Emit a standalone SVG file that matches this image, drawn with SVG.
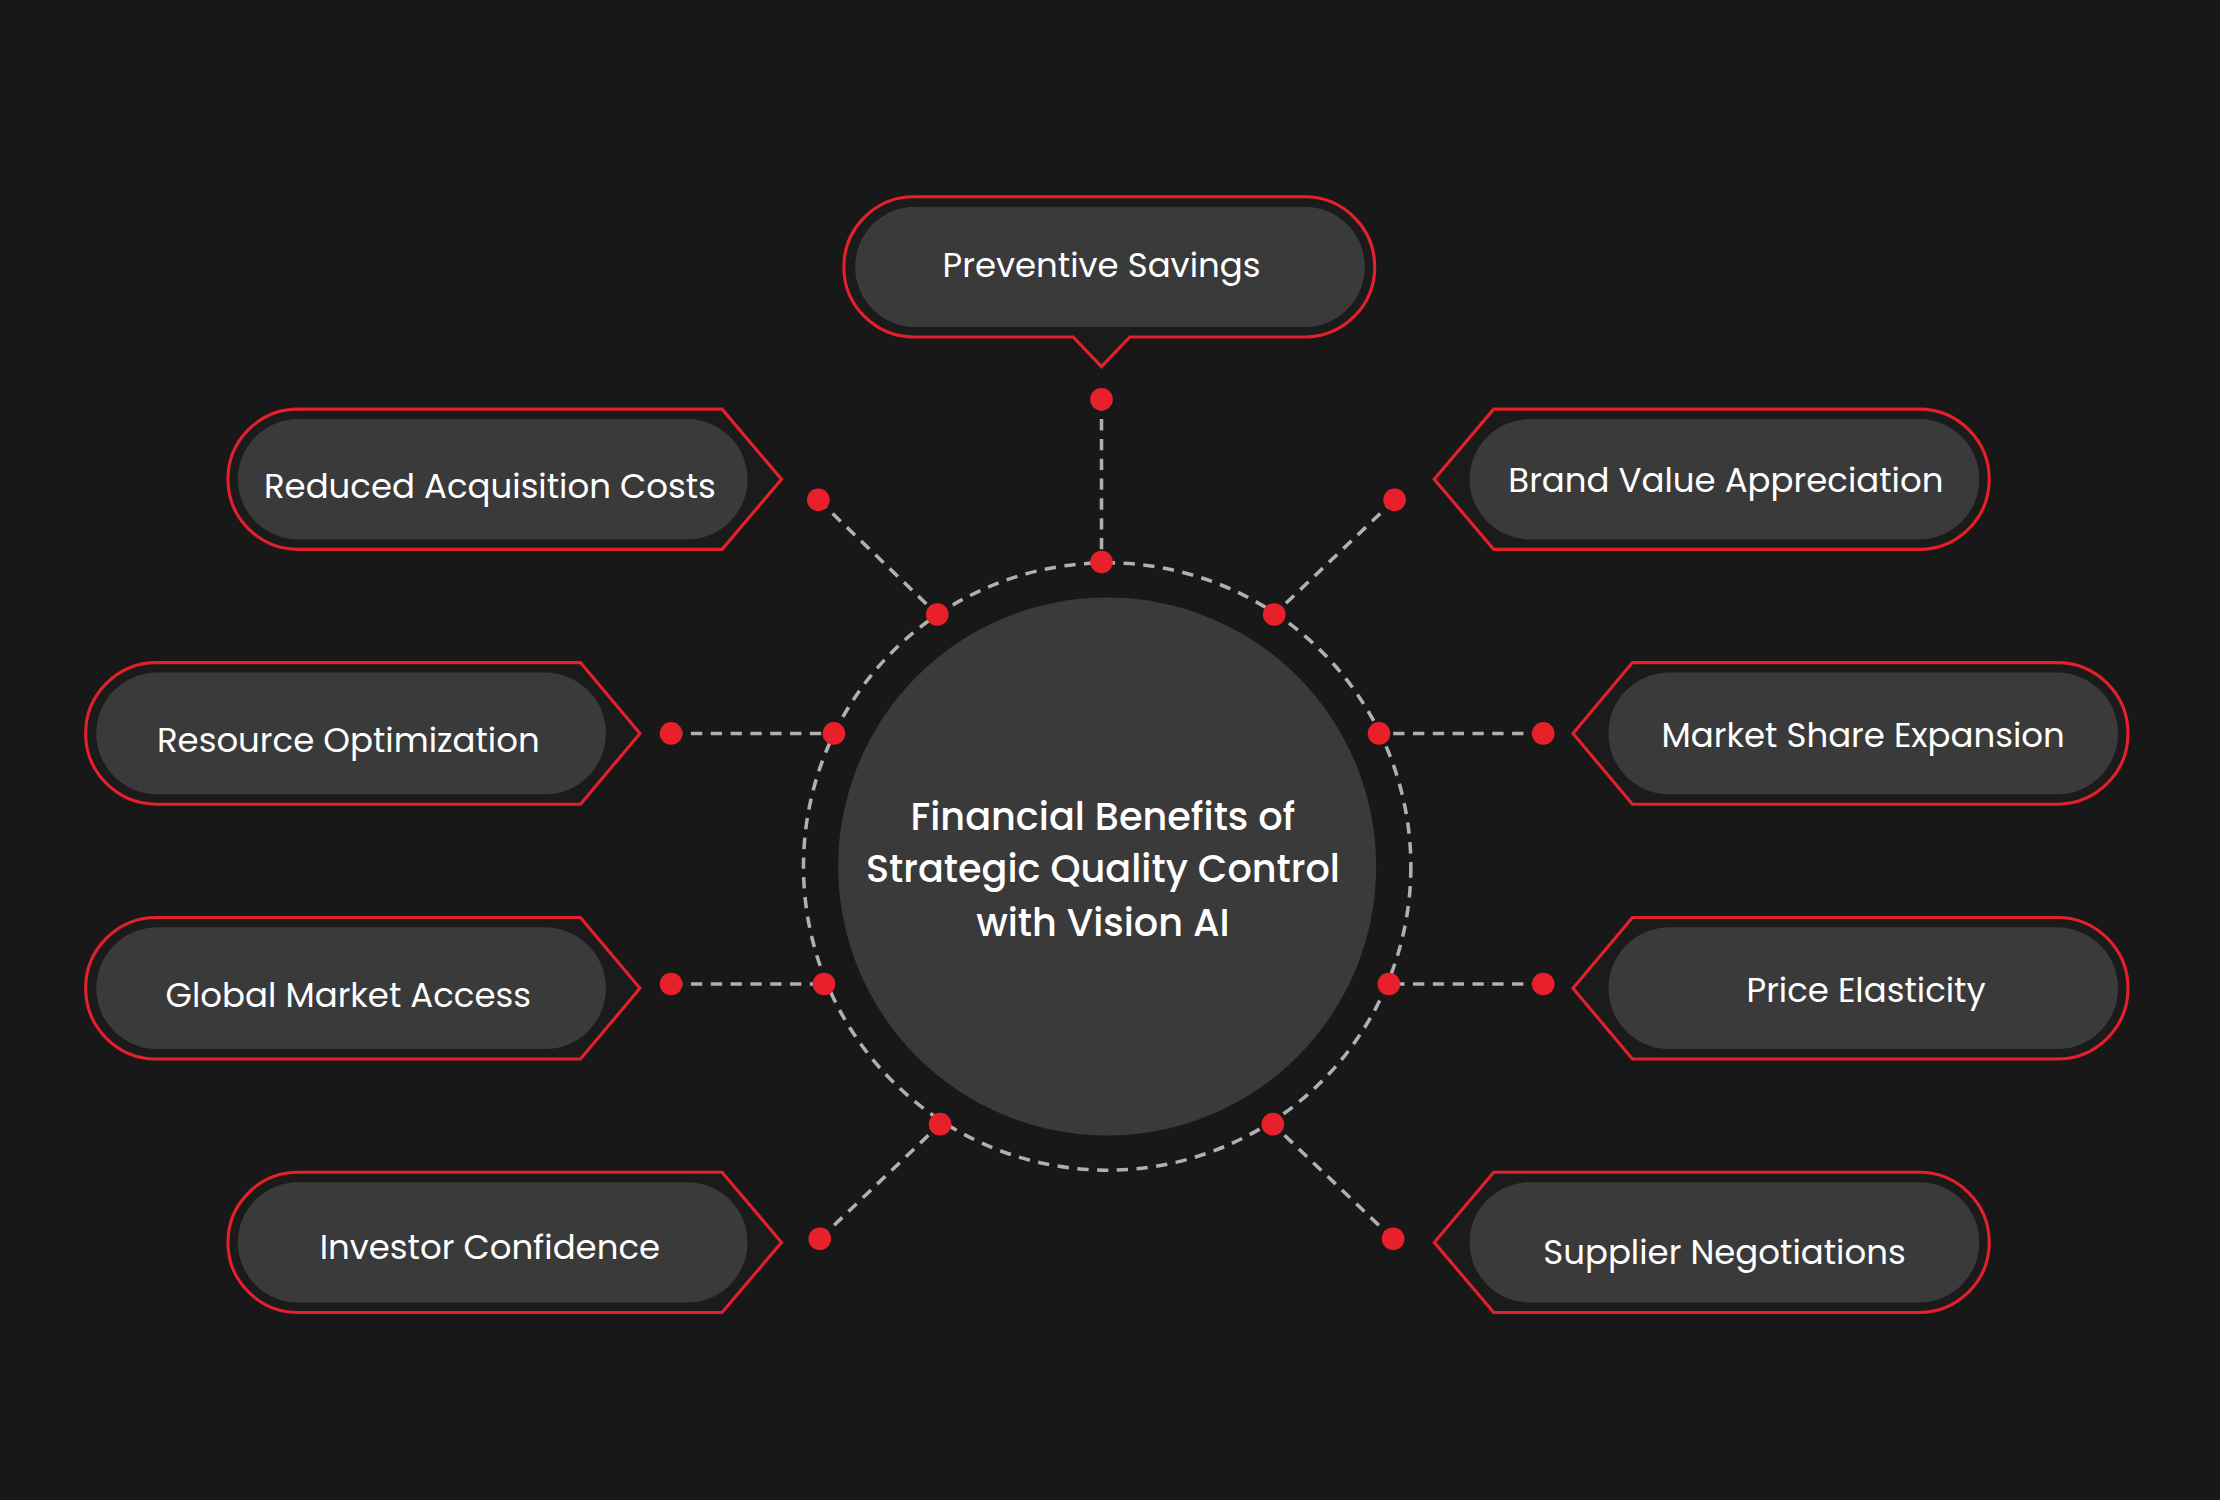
<svg xmlns="http://www.w3.org/2000/svg" width="2220" height="1500" viewBox="0 0 2220 1500">
<style>
.o{fill:#1b1b1b;stroke:#e3202b;stroke-width:2.2}
.p{fill:#3a3a3a}
.t{fill:#fff;font-family:"Poppins","Inter","Lato",sans-serif;font-size:24px;text-anchor:middle;dominant-baseline:central}
.h{fill:#fff;font-family:"Poppins","Inter","Lato",sans-serif;font-size:27px;font-weight:500;text-anchor:middle}
.d{fill:#e8202a}
.l{stroke:#b0b0b0;stroke-width:2.5;stroke-dasharray:8 6;fill:none}
</style>
<rect width="2220" height="1500" fill="#181818"/>
<g transform="scale(1.41582)">
<g id="connectors">
<circle cx="782" cy="612" r="214.5" class="l"/>
<line x1="778" y1="282" x2="778" y2="397" class="l"/>
<line x1="578" y1="353" x2="662" y2="434" class="l"/>
<line x1="474" y1="518" x2="589" y2="518" class="l"/>
<line x1="474" y1="695" x2="582" y2="695" class="l"/>
<line x1="579" y1="875" x2="664" y2="794" class="l"/>
<line x1="985" y1="353" x2="900" y2="434" class="l"/>
<line x1="1090" y1="518" x2="974" y2="518" class="l"/>
<line x1="1090" y1="695" x2="981" y2="695" class="l"/>
<line x1="984" y1="875" x2="899" y2="794" class="l"/>
<g class="d">
<circle cx="778" cy="282" r="8"/><circle cx="778" cy="397" r="8"/>
<circle cx="578" cy="353" r="8"/><circle cx="662" cy="434" r="8"/>
<circle cx="474" cy="518" r="8"/><circle cx="589" cy="518" r="8"/>
<circle cx="474" cy="695" r="8"/><circle cx="582" cy="695" r="8"/>
<circle cx="579" cy="875" r="8"/><circle cx="664" cy="794" r="8"/>
<circle cx="985" cy="353" r="8"/><circle cx="900" cy="434" r="8"/>
<circle cx="1090" cy="518" r="8"/><circle cx="974" cy="518" r="8"/>
<circle cx="1090" cy="695" r="8"/><circle cx="981" cy="695" r="8"/>
<circle cx="984" cy="875" r="8"/><circle cx="899" cy="794" r="8"/>
</g>
</g>
<g id="center">
<circle cx="782" cy="612" r="190" fill="#3a3a3a"/>
<text class="h" x="779" y="586">Financial Benefits of</text>
<text class="h" x="779" y="623">Strategic Quality Control</text>
<text class="h" x="779" y="661">with Vision AI</text>
</g>
<g id="preventive">
<path class="o" d="M645.5,139 H921.5 A49.5,49.5 0 0 1 921.5,238 H798 L778,259 L758,238 H645.5 A49.5,49.5 0 0 1 645.5,139 Z"/>
<rect class="p" x="604" y="146" width="360" height="85" rx="42.5"/>
<text class="t" x="778" y="187">Preventive Savings</text>
</g>
<g id="reduced">
<path class="o" d="M210.5,289 H510 L552,338.5 L510,388 H210.5 A49.5,49.5 0 0 1 210.5,289 Z"/>
<rect class="p" x="168" y="296" width="360" height="85" rx="42.5"/>
<text class="t" x="346" y="343">Reduced Acquisition Costs</text>
</g>
<g id="resource">
<path class="o" d="M110.5,468 H410 L452,518 L410,568 H110.5 A50,50 0 0 1 110.5,468 Z"/>
<rect class="p" x="68" y="475" width="360" height="86" rx="43"/>
<text class="t" x="246" y="523">Resource Optimization</text>
</g>
<g id="global">
<path class="o" d="M110.5,648 H410 L452,698 L410,748 H110.5 A50,50 0 0 1 110.5,648 Z"/>
<rect class="p" x="68" y="655" width="360" height="86" rx="43"/>
<text class="t" x="246" y="703">Global Market Access</text>
</g>
<g id="investor">
<path class="o" d="M210.5,828 H510 L552,877.5 L510,927 H210.5 A49.5,49.5 0 0 1 210.5,828 Z"/>
<rect class="p" x="168" y="835" width="360" height="85" rx="42.5"/>
<text class="t" x="346" y="881">Investor Confidence</text>
</g>
<g id="brand">
<path class="o" d="M1355.5,289 H1055 L1013,338.5 L1055,388 H1355.5 A49.5,49.5 0 0 0 1355.5,289 Z"/>
<rect class="p" x="1038" y="296" width="360" height="85" rx="42.5"/>
<text class="t" x="1219" y="339">Brand Value Appreciation</text>
</g>
<g id="market">
<path class="o" d="M1453,468 H1153 L1111,518 L1153,568 H1453 A50,50 0 0 0 1453,468 Z"/>
<rect class="p" x="1136" y="475" width="360" height="86" rx="43"/>
<text class="t" x="1316" y="519">Market Share Expansion</text>
</g>
<g id="price">
<path class="o" d="M1453,648 H1153 L1111,698 L1153,748 H1453 A50,50 0 0 0 1453,648 Z"/>
<rect class="p" x="1136" y="655" width="360" height="86" rx="43"/>
<text class="t" x="1318" y="699">Price Elasticity</text>
</g>
<g id="supplier">
<path class="o" d="M1355.5,828 H1055 L1013,877.5 L1055,927 H1355.5 A49.5,49.5 0 0 0 1355.5,828 Z"/>
<rect class="p" x="1038" y="835" width="360" height="85" rx="42.5"/>
<text class="t" x="1218" y="884">Supplier Negotiations</text>
</g>
</g>
</svg>
